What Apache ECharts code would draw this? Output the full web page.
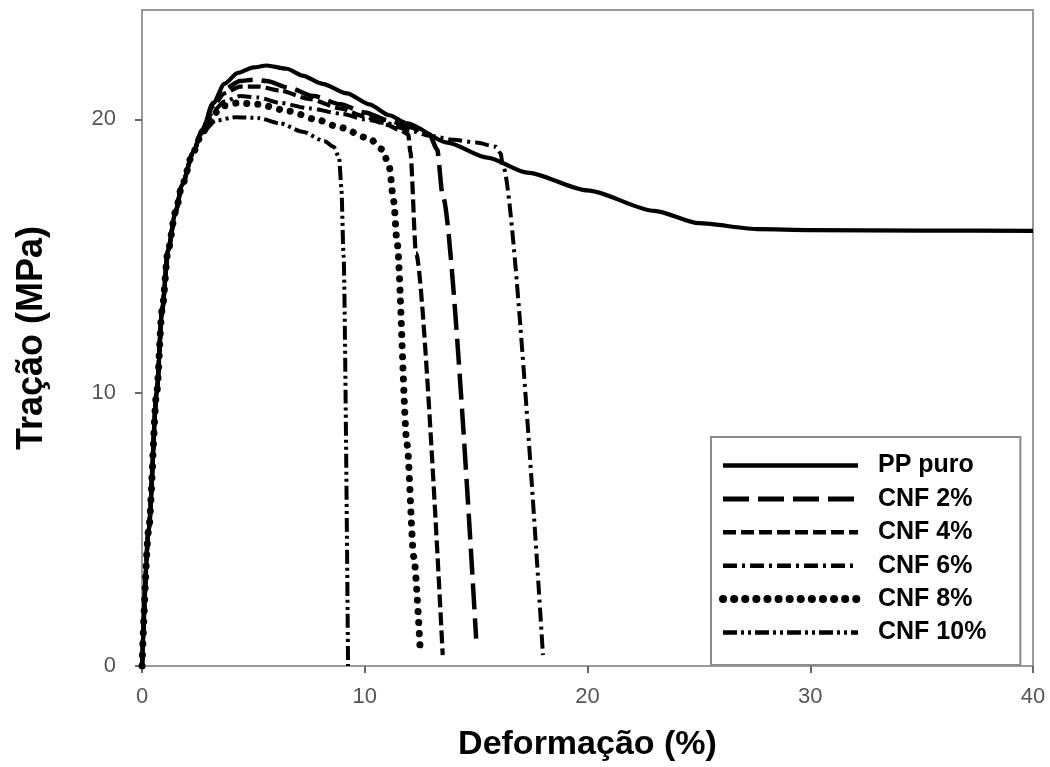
<!DOCTYPE html>
<html>
<head>
<meta charset="utf-8">
<script src="https://cdn.jsdelivr.net/npm/echarts@6/dist/echarts.min.js"></script>
<style>
html,body{margin:0;padding:0;background:#fff;}
#chart{width:1050px;height:767px;}
</style>
</head>
<body>
<div id="chart"></div>
<script>
// ---- data (strain %, stress MPa) ----
const seriesNames = ['PP puro', 'CNF 2%', 'CNF 4%', 'CNF 6%', 'CNF 8%', 'CNF 10%'];
const xTicks = [0, 10, 20, 30, 40];
const yTicks = [0, 10, 20];

const ppPuro = [[0,0],[0.3,5],[0.66,10],[0.9,13],[1.17,15.2],[1.5,16.6],[1.8,17.6],[2.3,18.8],[2.7,19.6],[3.2,20.6],[3.7,21.3],[4.3,21.7],[5.0,21.9],[5.6,21.97],[6.5,21.85],[7.2,21.6],[8.1,21.3],[9.2,20.95],[10.2,20.55],[11.1,20.15],[11.9,19.85],[13.7,19.15],[15.5,18.6],[17.3,18.05],[20,17.4],[23,16.65],[25,16.2],[27.7,15.98],[30,15.95],[35,15.93],[40,15.92]];
const cnf2 = [[0,0],[0.3,5],[0.66,10],[0.9,13],[1.17,15.2],[1.5,16.6],[1.8,17.6],[2.3,18.8],[2.7,19.6],[3.2,20.6],[3.7,21.1],[4.4,21.4],[5.0,21.45],[5.6,21.4],[6.6,21.15],[7.7,20.85],[8.9,20.55],[10,20.25],[11.1,19.95],[12,19.72],[12.9,19.45],[13.25,18.9],[13.5,17.2],[15.0,1.0]];
const cnf4 = [[0,0],[0.3,5],[0.66,10],[0.9,13],[1.17,15.2],[1.5,16.6],[1.8,17.6],[2.3,18.8],[2.7,19.6],[3.2,20.5],[3.7,20.95],[4.4,21.2],[5.2,21.2],[6.2,21.05],[7.5,20.75],[8.9,20.4],[10,20.1],[11,19.8],[11.6,19.6],[11.95,19.45],[12.05,18.8],[12.3,15.1],[13.5,0.4]];
const cnf6 = [[0,0],[0.3,5],[0.66,10],[0.9,13],[1.17,15.2],[1.5,16.6],[1.8,17.6],[2.3,18.8],[2.7,19.5],[3.2,20.3],[3.7,20.65],[4.4,20.85],[5.2,20.8],[6.2,20.6],[7.5,20.4],[9,20.2],[10,20.0],[11,19.85],[12,19.6],[12.9,19.4],[14,19.25],[15,19.15],[15.9,19.0],[16.1,18.75],[16.2,18.3],[18.0,0.4]];
const cnf8 = [[0,0],[0.3,5],[0.66,10],[0.9,13],[1.17,15.2],[1.5,16.6],[1.8,17.6],[2.3,18.8],[2.7,19.5],[3.2,20.2],[3.7,20.5],[4.3,20.6],[5.2,20.55],[6.6,20.3],[7.8,20.0],[8.9,19.7],[10.2,19.3],[10.8,18.9],[11.1,18.25],[11.3,17.0],[11.45,15.5],[11.9,8.1],[12.2,4.0],[12.5,0.4]];
const cnf10 = [[0,0],[0.3,5],[0.66,10],[0.9,13],[1.17,15.2],[1.5,16.6],[1.8,17.6],[2.3,18.8],[2.7,19.5],[3.3,19.95],[4.2,20.08],[5.2,20.05],[6.2,19.85],[7.2,19.55],[8.2,19.2],[8.6,19.0],[8.85,18.6],[8.95,17.5],[9.05,15.0],[9.25,0]];

const seriesData = [ppPuro, cnf2, cnf4, cnf6, cnf8, cnf10];
const dashTypes = ['solid', [26, 9], [13, 5], [14, 5, 3, 5], [0.1, 11], [14, 4, 3, 4, 3, 4]];
const lineWidths = [4.2, 4.5, 4.2, 4, 7, 4];
const legendWidths = [4.5, 5, 4.5, 4.5, 8, 4.5];

const FONT = 'Liberation Sans, Arial, sans-serif';
const chart = echarts.init(document.getElementById('chart'), null, {renderer: 'canvas'});
const axisGrey = '#9a9a9a';
const labelGrey = '#555';
const option = {
  animation: false,
  backgroundColor: '#fff',
  grid: {left: 142, right: 17, top: 10, bottom: 100, show: true, borderColor: axisGrey, borderWidth: 2, backgroundColor: 'transparent'},
  legend: {
    orient: 'vertical',
    left: 711, top: 437,
    padding: [16, 34, 20, 8],
    itemWidth: 135, itemHeight: 24, itemGap: 8.4,
    backgroundColor: '#fff',
    borderColor: '#8a8a8a', borderWidth: 2,
    itemStyle: {color: 'rgba(0,0,0,0)', borderColor: 'rgba(0,0,0,0)', borderWidth: 0, opacity: 0},
    textStyle: {fontFamily: FONT, fontWeight: 'bold', fontSize: 25, color: '#000', padding: [0, 0, 0, 15]},
    data: seriesNames.map((n, i) => ({
      name: n,
      itemStyle: {color: 'rgba(0,0,0,0)', borderColor: 'rgba(0,0,0,0)', borderWidth: 0, opacity: 0},
      lineStyle: {width: legendWidths[i], type: dashTypes[i], color: '#000', cap: i === 4 ? 'round' : 'butt'}
    }))
  },
  xAxis: [{
    type: 'value', min: 0, max: 40, interval: 10,
    name: 'Deformação (%)', nameLocation: 'middle', nameGap: 62,
    nameTextStyle: {fontFamily: FONT, fontWeight: 'bold', fontSize: 34, color: '#000'},
    axisLine: {show: true, lineStyle: {color: axisGrey, width: 2}},
    axisTick: {show: true, inside: false, length: 7, lineStyle: {color: '#666', width: 2}},
    axisLabel: {margin: 20, fontFamily: FONT, fontSize: 22, color: labelGrey},
    splitLine: {show: false}
  }, {
    type: 'value', position: 'top', min: 0, max: 40, interval: 10,
    axisLine: {show: true, lineStyle: {color: axisGrey, width: 2}},
    axisTick: {show: false}, axisLabel: {show: false}, splitLine: {show: false}
  }],
  yAxis: [{
    type: 'value', min: 0, max: 24, interval: 10,
    name: 'Tração (MPa)', nameLocation: 'middle', nameGap: 92,
    nameTextStyle: {fontFamily: FONT, fontWeight: 'bold', fontSize: 36, color: '#000'},
    axisLine: {show: true, lineStyle: {color: axisGrey, width: 2}},
    axisTick: {show: true, inside: false, length: 7, lineStyle: {color: '#666', width: 2}, customValues: yTicks},
    axisLabel: {margin: 26, fontFamily: FONT, fontSize: 22, color: labelGrey, customValues: yTicks,
      formatter: v => (yTicks.indexOf(v) >= 0 ? String(v) : '')},
    splitLine: {show: false}
  }, {
    type: 'value', position: 'right', min: 0, max: 24, interval: 10,
    axisLine: {show: true, lineStyle: {color: axisGrey, width: 2}},
    axisTick: {show: true, inside: true, length: 7, lineStyle: {color: '#666', width: 2}, customValues: [10, 20]},
    axisLabel: {show: false}, splitLine: {show: false}
  }],
  series: seriesNames.map((name, i) => ({
    name: name,
    type: 'line',
    data: seriesData[i],
    xAxisIndex: 0, yAxisIndex: 0,
    showSymbol: false, symbol: 'none',
    smooth: 0.25, smoothMonotone: 'x',
    z: 10 - i,
    lineStyle: {color: '#000', width: lineWidths[i], type: dashTypes[i], cap: i === 4 ? 'round' : 'butt'},
    itemStyle: {color: '#000'}
  })).concat([{
    name: '_frame', type: 'line', data: [], xAxisIndex: 1, yAxisIndex: 1, symbol: 'none', silent: true
  }])
};
chart.setOption(option);
</script>
</body>
</html>
